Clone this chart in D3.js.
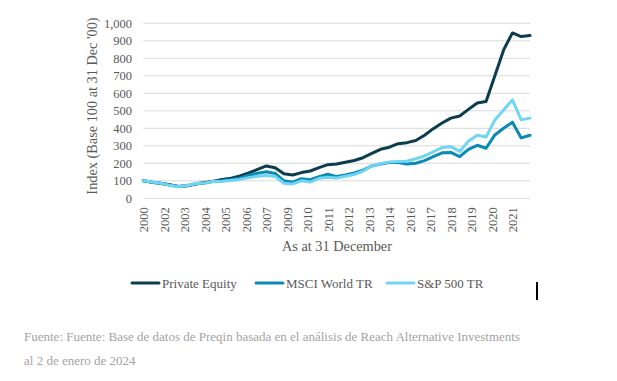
<!DOCTYPE html>
<html>
<head>
<meta charset="utf-8">
<script src="https://cdn.jsdelivr.net/npm/d3@7"></script>
<style>
  html, body { margin: 0; padding: 0; background: #fff; }
  svg { display: block; }
  text { font-family: "Liberation Serif", "Times New Roman", serif; }
</style>
</head>
<body>
<svg id="chart" width="617" height="381"></svg>
<script>
// ---- Data ----
const dates = ["2000-12","2001-06","2001-12","2002-06","2002-12","2003-06","2003-12","2004-06","2004-12","2005-06","2005-12","2006-06","2006-12","2007-06","2007-12","2008-06","2008-12","2009-06","2009-12","2010-06","2010-12","2011-06","2011-12","2012-06","2012-12","2013-06","2013-12","2014-06","2014-12","2015-06","2015-12","2016-06","2016-12","2017-06","2017-12","2018-06","2018-12","2019-06","2019-12","2020-06","2020-12","2021-06","2021-12","2022-06","2022-12"];
const privateEquity = [100,92,86,78,68,72,82,90,98,108,115,128,145,165,185,175,140,133,147,156,175,192,196,206,216,232,257,280,292,312,318,330,360,398,430,458,470,508,545,553,700,848,945,924,930];
const msciWorld = [100,92,85,76,67,72,84,88,97,100,108,116,130,143,152,142,100,92,112,106,124,137,124,133,145,160,185,196,204,204,196,200,215,238,260,262,238,280,303,286,362,400,435,345,360];
const sp500 = [100,93,86,74,66,73,85,88,96,98,102,108,118,126,130,125,86,82,100,93,114,120,116,126,136,155,185,198,208,210,212,226,242,266,290,295,268,326,360,350,448,505,562,448,458];
const seriesNames = ["Private Equity","MSCI World TR","S&P 500 TR"];
const seriesColors = ["#0b3d4f","#0a8ab5","#6fd5f2"];
const tickDates = ["2000-12","2002-02","2003-04","2004-06","2005-08","2006-10","2007-12","2009-02","2010-04","2011-06","2012-08","2013-10","2014-12","2016-02","2017-04","2018-06","2019-08","2020-10","2021-12"];
const tickLabels = ["2000","2002","2003","2004","2005","2006","2007","2009","2010","2011","2012","2013","2014","2016","2017","2018","2019","2020","2021"];
const yTicks = [0,100,200,300,400,500,600,700,800,900,1000];
const yTitle = "Index (Base 100 at 31 Dec '00)";
const xTitle = "As at 31 December";
const sourceLines = ["Fuente: Fuente: Base de datos de Preqin basada en el análisis de Reach Alternative Investments","al 2 de enero de 2024"];

// ---- Layout ----
const svg = d3.select("#chart");
const parse = d3.timeParse("%Y-%m");
const plotLeft = 143.3, plotRight = 530, plotTop = 23.3, plotBottom = 198.3;
const x = d3.scaleTime().domain([parse(dates[0]), parse(dates[dates.length-1])]).range([plotLeft, plotRight]);
const y = d3.scaleLinear().domain([0, 1000]).range([plotBottom, plotTop]);
const textColor = "#595959";

// gridlines
svg.append("g").selectAll("line").data(yTicks).join("line")
  .attr("x1", plotLeft).attr("x2", plotRight)
  .attr("y1", d => y(d)).attr("y2", d => y(d))
  .attr("stroke", "#d9d9d9").attr("stroke-width", 1);

// y axis
const yAxis = d3.axisLeft(y).tickValues(yTicks).tickSize(0).tickPadding(0)
  .tickFormat(d3.format(","));
const yg = svg.append("g").attr("transform", `translate(${132},0)`).call(yAxis);
yg.select(".domain").remove();
yg.selectAll("text").attr("font-size", "12.5px").attr("fill", textColor)
  .attr("font-family", "Liberation Serif");

// x axis
const xAxis = d3.axisBottom(x).tickValues(tickDates.map(parse)).tickSize(0).tickPadding(0)
  .tickFormat((d, i) => tickLabels[i]);
const xg = svg.append("g").attr("transform", `translate(0,${plotBottom})`).call(xAxis);
xg.select(".domain").remove();
xg.selectAll("text")
  .attr("font-size", "12.5px").attr("fill", textColor).attr("font-family", "Liberation Serif")
  .attr("text-anchor", "end")
  .attr("transform", "rotate(-90)")
  .attr("x", -9).attr("y", 0).attr("dy", "0.35em");

// axis titles
svg.append("text").attr("x", 337).attr("y", 251).attr("text-anchor", "middle")
  .attr("font-size", "14.3px").attr("fill", textColor).text(xTitle);
svg.append("text").attr("transform", "translate(97,106) rotate(-90)").attr("text-anchor", "middle")
  .attr("font-size", "14.3px").attr("fill", textColor).text(yTitle);

// lines
const allSeries = [privateEquity, msciWorld, sp500];
const line = d3.line().x((d, i) => x(parse(dates[i]))).y(d => y(d));
svg.append("g").selectAll("path").data(allSeries).join("path")
  .attr("d", d => line(d))
  .attr("fill", "none")
  .attr("stroke", (d, i) => seriesColors[i])
  .attr("stroke-width", 3)
  .attr("stroke-linejoin", "round")
  .attr("stroke-linecap", "round");

// legend
const legendX = [132, 256, 387];
const lg = svg.append("g").selectAll("g").data(seriesNames).join("g")
  .attr("transform", (d, i) => `translate(${legendX[i]},283)`);
lg.append("line").attr("x1", 0).attr("x2", 27).attr("y1", 0).attr("y2", 0)
  .attr("stroke", (d, i) => seriesColors[i]).attr("stroke-width", 3).attr("stroke-linecap", "round");
lg.append("text").attr("x", 30).attr("y", 0).attr("dy", "0.35em")
  .attr("font-size", "13px").attr("fill", textColor).text(d => d);

// cursor mark
svg.append("rect").attr("x", 536).attr("y", 282).attr("width", 2).attr("height", 18).attr("fill", "#000");

// source
svg.append("g").selectAll("text").data(sourceLines).join("text")
  .attr("x", 24).attr("y", (d, i) => 341 + i * 24)
  .attr("font-size", "13px").attr("fill", "#a3a3a3").text(d => d);
</script>
</body>
</html>
